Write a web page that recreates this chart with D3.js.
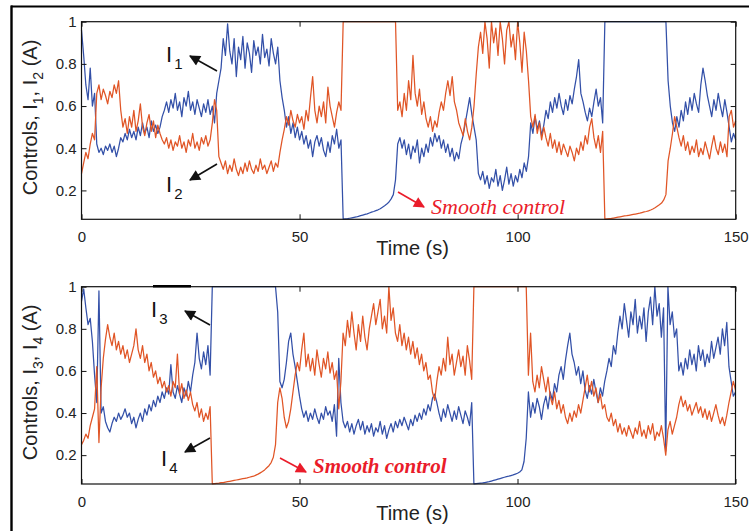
<!DOCTYPE html>
<html>
<head>
<meta charset="utf-8">
<script src="https://cdn.jsdelivr.net/npm/d3@7"></script>
<style>
  html, body { margin: 0; padding: 0; background: #fff; }
  svg { display: block; }
</style>
</head>
<body>
<svg id="chart" width="749" height="531"></svg>
<script>
// ---- data (sampled every 0.5 s, t = 0 ... 150) ----
const timeStart = 0, timeStep = 0.5, timeEnd = 150;
const xTicks = [0, 50, 100, 150];
const yTicks = [0.2, 0.4, 0.6, 0.8, 1];
const yTickLabels = ["0.2", "0.4", "0.6", "0.8", "1"];

const I1 = [
0.96,0.84,0.70,0.63,0.78,0.60,0.66,0.42,0.38,0.40,
0.37,0.41,0.39,0.42,0.38,0.41,0.36,0.40,0.45,0.43,
0.47,0.44,0.49,0.45,0.48,0.44,0.50,0.46,0.52,0.47,
0.50,0.45,0.53,0.48,0.51,0.47,0.50,0.55,0.58,0.62,
0.57,0.63,0.59,0.66,0.58,0.62,0.55,0.64,0.60,0.67,
0.58,0.62,0.56,0.63,0.59,0.55,0.61,0.57,0.63,0.56,
0.60,0.52,0.66,0.72,0.78,0.92,0.84,0.99,0.86,0.80,
0.92,0.74,0.88,0.82,0.93,0.78,0.90,0.85,0.76,0.91,
0.84,0.88,0.80,0.94,0.83,0.87,0.79,0.92,0.85,0.80,
0.88,0.72,0.64,0.58,0.50,0.55,0.47,0.52,0.45,0.50,
0.44,0.48,0.42,0.46,0.40,0.44,0.36,0.43,0.46,0.41,
0.45,0.39,0.36,0.43,0.38,0.46,0.42,0.49,0.40,0.44,
0.064,0.065,0.066,0.068,0.070,0.072,0.074,0.077,0.080,0.083,
0.086,0.089,0.093,0.097,0.100,0.104,0.108,0.113,0.120,0.127,
0.135,0.145,0.16,0.18,0.25,0.42,0.45,0.40,0.44,0.37,
0.42,0.35,0.41,0.38,0.44,0.33,0.40,0.36,0.42,0.38,
0.45,0.41,0.47,0.43,0.46,0.40,0.44,0.38,0.42,0.36,
0.40,0.34,0.38,0.35,0.42,0.46,0.52,0.58,0.64,0.56,
0.50,0.44,0.28,0.25,0.29,0.23,0.27,0.21,0.26,0.24,
0.30,0.22,0.27,0.20,0.25,0.31,0.23,0.28,0.22,0.27,
0.24,0.30,0.26,0.33,0.29,0.36,0.52,0.47,0.55,0.49,
0.53,0.46,0.51,0.58,0.54,0.62,0.57,0.64,0.59,0.66,
0.60,0.56,0.63,0.58,0.65,0.61,0.68,0.74,0.82,0.66,
0.62,0.57,0.53,0.59,0.55,0.62,0.68,0.60,0.64,0.52,
1,1,1,1,1,1,1,1,1,1,
1,1,1,1,1,1,1,1,1,1,
1,1,1,1,1,1,1,1,1,0.72,
0.60,0.52,0.48,0.55,0.50,0.58,0.53,0.62,0.56,0.64,
0.58,0.66,0.61,0.57,0.70,0.78,0.72,0.65,0.60,0.55,
0.63,0.58,0.66,0.60,0.55,0.63,0.57,0.50,0.43,0.47,
0.44];

const I2 = [
0.28,0.33,0.38,0.35,0.42,0.47,0.44,0.66,0.70,0.63,
0.68,0.65,0.61,0.67,0.64,0.70,0.66,0.72,0.58,0.50,
0.54,0.47,0.55,0.50,0.58,0.48,0.53,0.61,0.50,0.46,
0.52,0.56,0.48,0.53,0.45,0.51,0.47,0.44,0.42,0.45,
0.40,0.44,0.39,0.43,0.41,0.46,0.40,0.43,0.38,0.44,
0.41,0.47,0.40,0.43,0.39,0.45,0.42,0.46,0.41,0.44,
0.52,0.63,0.58,0.36,0.33,0.30,0.34,0.28,0.32,0.29,
0.35,0.30,0.27,0.31,0.28,0.33,0.29,0.34,0.30,0.28,
0.32,0.29,0.35,0.30,0.32,0.28,0.31,0.34,0.29,0.33,
0.31,0.38,0.44,0.49,0.55,0.51,0.58,0.53,0.50,0.56,
0.52,0.55,0.49,0.58,0.53,0.64,0.74,0.58,0.52,0.60,
0.55,0.62,0.52,0.69,0.60,0.55,0.50,0.57,0.62,0.58,
1,1,1,1,1,1,1,1,1,1,
1,1,1,1,1,1,1,1,1,1,
1,1,1,1,1,0.58,0.62,0.55,0.66,0.58,
0.72,0.63,0.84,0.66,0.60,0.68,0.56,0.62,0.54,0.50,
0.55,0.48,0.53,0.50,0.57,0.62,0.58,0.66,0.72,0.65,
0.74,0.62,0.58,0.52,0.49,0.46,0.54,0.48,0.44,0.50,
0.60,0.75,0.88,0.95,0.85,1.00,0.92,0.78,1.00,0.90,
0.97,0.84,1.00,0.92,0.80,0.96,1.00,0.88,0.94,0.82,
1.00,0.90,0.76,0.95,0.86,0.72,0.55,0.50,0.56,0.47,
0.52,0.44,0.50,0.45,0.41,0.47,0.40,0.44,0.38,0.43,
0.37,0.42,0.39,0.36,0.41,0.38,0.34,0.40,0.37,0.43,
0.39,0.46,0.42,0.50,0.54,0.45,0.40,0.46,0.38,0.48,
0.064,0.065,0.066,0.067,0.069,0.071,0.073,0.075,0.077,0.079,
0.080,0.082,0.084,0.086,0.088,0.090,0.092,0.095,0.098,0.100,
0.103,0.107,0.112,0.118,0.125,0.132,0.140,0.155,0.18,0.34,
0.40,0.47,0.55,0.50,0.45,0.41,0.46,0.39,0.43,0.37,
0.41,0.38,0.44,0.36,0.40,0.37,0.43,0.39,0.35,0.41,
0.46,0.40,0.37,0.43,0.38,0.42,0.36,0.55,0.58,0.50,
0.53];

const I3 = [
0.93,0.99,0.90,0.82,0.85,0.74,0.58,0.45,0.98,0.40,
0.43,0.36,0.33,0.31,0.35,0.38,0.36,0.40,0.37,0.39,
0.42,0.38,0.40,0.35,0.38,0.33,0.37,0.40,0.36,0.42,
0.39,0.44,0.41,0.46,0.43,0.48,0.45,0.50,0.47,0.52,
0.49,0.63,0.50,0.47,0.53,0.49,0.45,0.52,0.48,0.55,
0.50,0.58,0.64,0.78,0.66,0.61,0.69,0.63,0.72,0.58,
1,1,1,1,1,1,1,1,1,1,
1,1,1,1,1,1,1,1,1,1,
1,1,1,1,1,1,1,1,1,1,
0.88,0.55,0.52,0.56,0.64,0.74,0.78,0.68,0.62,0.55,
0.48,0.42,0.38,0.41,0.36,0.40,0.37,0.42,0.38,0.35,
0.40,0.37,0.43,0.39,0.41,0.36,0.44,0.29,0.66,0.45,
0.36,0.33,0.36,0.31,0.35,0.30,0.34,0.37,0.32,0.36,
0.30,0.34,0.31,0.35,0.29,0.33,0.31,0.36,0.30,0.34,
0.28,0.32,0.35,0.31,0.36,0.33,0.37,0.34,0.38,0.35,
0.32,0.37,0.34,0.39,0.36,0.40,0.37,0.42,0.39,0.44,
0.41,0.47,0.49,0.45,0.40,0.36,0.42,0.38,0.44,0.40,
0.36,0.41,0.37,0.43,0.39,0.35,0.41,0.38,0.34,0.45,
0.064,0.065,0.066,0.067,0.068,0.070,0.072,0.074,0.077,0.080,
0.083,0.086,0.089,0.092,0.095,0.098,0.100,0.103,0.106,0.110,
0.114,0.12,0.13,0.17,0.28,0.50,0.38,0.45,0.40,0.47,
0.43,0.37,0.44,0.48,0.42,0.50,0.46,0.54,0.50,0.58,
0.62,0.56,0.65,0.72,0.78,0.68,0.64,0.58,0.62,0.54,
0.60,0.51,0.47,0.53,0.49,0.56,0.50,0.45,0.52,0.48,
0.55,0.60,0.66,0.62,0.72,0.68,0.78,0.86,0.80,0.92,
0.84,0.76,0.88,0.82,0.94,0.78,0.86,0.80,0.90,0.74,
0.88,0.95,0.82,1.00,0.86,0.92,0.76,0.90,0.22,1.00,
0.82,0.88,0.76,0.80,0.60,0.64,0.58,0.66,0.61,0.70,
0.63,0.68,0.60,0.72,0.65,0.70,0.62,0.68,0.64,0.74,
0.66,0.71,0.76,0.68,0.80,0.72,0.83,0.62,0.55,0.48,
0.50];

const I4 = [
0.25,0.27,0.30,0.28,0.34,0.38,0.42,0.62,0.26,0.52,
0.66,0.75,0.82,0.76,0.72,0.78,0.70,0.74,0.68,0.72,
0.66,0.70,0.64,0.68,0.72,0.80,0.70,0.66,0.72,0.64,
0.68,0.60,0.64,0.57,0.60,0.54,0.57,0.52,0.55,0.50,
0.53,0.48,0.55,0.52,0.68,0.49,0.54,0.47,0.51,0.46,
0.50,0.44,0.41,0.45,0.38,0.42,0.36,0.40,0.37,0.43,
0.064,0.065,0.066,0.067,0.069,0.070,0.072,0.074,0.076,0.078,
0.080,0.082,0.084,0.086,0.088,0.090,0.092,0.095,0.098,0.100,
0.105,0.110,0.116,0.122,0.130,0.140,0.150,0.165,0.19,0.25,
0.45,0.52,0.47,0.38,0.33,0.36,0.42,0.50,0.58,0.64,
0.60,0.70,0.78,0.62,0.68,0.60,0.66,0.58,0.70,0.63,
0.57,0.66,0.61,0.69,0.59,0.64,0.56,0.60,0.42,0.55,
0.78,0.72,0.84,0.76,0.88,0.78,0.70,0.82,0.74,0.86,
0.76,0.70,0.80,0.86,0.92,0.82,0.88,0.94,0.80,0.86,
0.78,1.00,0.84,0.90,0.78,0.74,0.82,0.72,0.78,0.70,
0.76,0.68,0.74,0.66,0.71,0.63,0.68,0.60,0.64,0.56,
0.58,0.50,0.46,0.55,0.62,0.58,0.66,0.60,0.76,0.63,
0.68,0.58,0.64,0.70,0.62,0.67,0.58,0.72,0.65,0.56,
1,1,1,1,1,1,1,1,1,1,
1,1,1,1,1,1,1,1,1,1,
1,1,1,1,1,0.58,0.78,0.55,0.50,0.58,
0.52,0.62,0.56,0.50,0.57,0.48,0.44,0.50,0.42,0.46,
0.40,0.44,0.38,0.35,0.40,0.36,0.41,0.38,0.44,0.40,
0.46,0.52,0.58,0.50,0.55,0.48,0.52,0.45,0.49,0.42,
0.44,0.38,0.36,0.40,0.34,0.37,0.31,0.35,0.30,0.33,
0.29,0.34,0.31,0.28,0.33,0.30,0.36,0.29,0.32,0.28,
0.34,0.30,0.35,0.27,0.31,0.29,0.34,0.28,0.20,0.32,
0.36,0.30,0.34,0.38,0.44,0.48,0.43,0.46,0.41,0.44,
0.39,0.42,0.45,0.40,0.43,0.38,0.42,0.37,0.41,0.36,
0.40,0.44,0.39,0.35,0.38,0.34,0.39,0.45,0.50,0.55,
0.51];

const T = d3.range(timeStart, timeEnd + timeStep / 2, timeStep);

// ---- styles ----
const BLUE = "#3350a8";
const ORANGE = "#e05526";
const RED = "#ea1c2a";
const SANS = "'Liberation Sans', Arial, sans-serif";
const SERIF = "'Liberation Serif', 'Times New Roman', serif";

const svg = d3.select("#chart");

// outer frame (partial, as in the reference)
svg.append("line").attr("x1", 11).attr("x2", 749).attr("y1", 6.5).attr("y2", 6.5)
  .attr("stroke", "#000").attr("stroke-width", 2.2);
svg.append("line").attr("x1", 11.5).attr("x2", 11.5).attr("y1", 5.5).attr("y2", 531)
  .attr("stroke", "#000").attr("stroke-width", 2.4);

// arrow markers
const defs = svg.append("defs");
function marker(id, color) {
  defs.append("marker").attr("id", id)
    .attr("viewBox", "0 0 10 10").attr("refX", 9).attr("refY", 5)
    .attr("markerUnits", "userSpaceOnUse")
    .attr("markerWidth", 13).attr("markerHeight", 11)
    .attr("orient", "auto")
    .append("path").attr("d", "M0,0 L10,5 L0,10 Z").attr("fill", color);
}
marker("ah-black", "#111");
marker("ah-red", RED);

function panel(cfg) {
  const x = d3.scaleLinear().domain([0, 150]).range([cfg.left, cfg.right]);
  const y = d3.scaleLinear().domain([0.063, 1]).range([cfg.bottom, cfg.top]);
  const g = svg.append("g");

  // series
  const line = d3.line().x((d, i) => x(T[i])).y(d => y(d));
  g.append("path").datum(cfg.blue).attr("d", line)
    .attr("fill", "none").attr("stroke", BLUE).attr("stroke-width", 1.25).attr("stroke-linejoin", "round");
  g.append("path").datum(cfg.orange).attr("d", line)
    .attr("fill", "none").attr("stroke", ORANGE).attr("stroke-width", 1.25).attr("stroke-linejoin", "round");

  // box
  g.append("rect").attr("x", cfg.left).attr("y", cfg.top)
    .attr("width", cfg.right - cfg.left).attr("height", cfg.bottom - cfg.top)
    .attr("fill", "none").attr("stroke", "#111").attr("stroke-width", 1.2);

  // axes with inward ticks
  const tl = 5;
  const axB = d3.axisBottom(x).tickValues(xTicks).tickSize(tl).tickFormat(d3.format("d"));
  const gB = g.append("g").attr("transform", `translate(0,${cfg.bottom})`).call(axB);
  gB.select(".domain").remove();
  gB.selectAll(".tick line").attr("y2", -tl).attr("stroke", "#111");
  gB.selectAll(".tick text").attr("y", 12).attr("dy", "0.71em")
    .style("font-size", "15px").style("font-family", SANS).attr("fill", "#222");

  const axT = d3.axisTop(x).tickValues(xTicks).tickSize(tl).tickFormat("");
  const gT = g.append("g").attr("transform", `translate(0,${cfg.top})`).call(axT);
  gT.select(".domain").remove();
  gT.selectAll(".tick line").attr("y2", tl).attr("stroke", "#111");

  const axL = d3.axisLeft(y).tickValues(yTicks).tickSize(tl)
    .tickFormat((d, i) => yTickLabels[i]);
  const gL = g.append("g").attr("transform", `translate(${cfg.left},0)`).call(axL);
  gL.select(".domain").remove();
  gL.selectAll(".tick line").attr("x2", tl).attr("stroke", "#111");
  gL.selectAll(".tick text").attr("x", -5)
    .style("font-size", "15px").style("font-family", SANS).attr("fill", "#222");

  const axR = d3.axisRight(y).tickValues(yTicks).tickSize(tl).tickFormat("");
  const gR = g.append("g").attr("transform", `translate(${cfg.right},0)`).call(axR);
  gR.select(".domain").remove();
  gR.selectAll(".tick line").attr("x2", -tl).attr("stroke", "#111");

  // x label
  g.append("text").attr("x", (cfg.left + cfg.right) / 2 + 4).attr("y", cfg.xLabelY)
    .attr("text-anchor", "middle").style("font-size", "20px").style("font-family", SANS)
    .attr("fill", "#222").text("Time (s)");

  // y label
  const yl = g.append("text")
    .attr("transform", `translate(${cfg.yLabelX},${(cfg.top + cfg.bottom) / 2 - 3}) rotate(-90)`)
    .attr("text-anchor", "middle").style("font-size", "20px").style("font-family", SANS)
    .attr("fill", "#222");
  yl.append("tspan").text("Controls, I");
  yl.append("tspan").style("font-size", "14px").attr("dy", 6).text(cfg.sub[0]);
  yl.append("tspan").attr("dy", -6).text(", I");
  yl.append("tspan").style("font-size", "14px").attr("dy", 6).text(cfg.sub[1]);
  yl.append("tspan").attr("dy", -6).text(" (A)");

  // series labels with arrows
  cfg.labels.forEach(L => {
    const t = g.append("text").attr("x", L.x).attr("y", L.y)
      .style("font-size", "22px").style("font-family", SANS).attr("fill", "#111");
    t.append("tspan").text("I");
    t.append("tspan").style("font-size", "15px").attr("dy", 7).attr("dx", 2).text(L.sub);
    g.append("line").attr("x1", L.a[0]).attr("y1", L.a[1]).attr("x2", L.a[2]).attr("y2", L.a[3])
      .attr("stroke", "#111").attr("stroke-width", 1.6).attr("marker-end", "url(#ah-black)");
  });

  // smooth control annotation
  const s = cfg.smooth;
  g.append("line").attr("x1", s.a[0]).attr("y1", s.a[1]).attr("x2", s.a[2]).attr("y2", s.a[3])
    .attr("stroke", RED).attr("stroke-width", 1.6).attr("marker-end", "url(#ah-red)");
  g.append("text").attr("x", s.x).attr("y", s.y)
    .style("font-family", SERIF).style("font-style", "italic")
    .style("font-weight", s.bold ? "bold" : "normal")
    .style("font-size", s.size + "px").attr("fill", RED).text("Smooth control");
}

panel({
  left: 81.5, right: 735.7, top: 21.7, bottom: 219.3,
  blue: I1, orange: I2, sub: ["1", "2"],
  xLabelY: 255, yLabelX: 37,
  labels: [
    { x: 166, y: 62, sub: "1", a: [217, 71, 190, 56] },
    { x: 166, y: 192, sub: "2", a: [217, 164, 190, 180] }
  ],
  smooth: { a: [398, 192, 424, 207], x: 431, y: 214, size: 22, bold: false }
});

panel({
  left: 81.5, right: 735.5, top: 286.7, bottom: 484,
  blue: I3, orange: I4, sub: ["3", "4"],
  xLabelY: 520, yLabelX: 37,
  labels: [
    { x: 151, y: 317, sub: "3", a: [210, 325, 185, 311] },
    { x: 161, y: 466, sub: "4", a: [210, 438, 185, 452] }
  ],
  smooth: { a: [280, 458, 306, 472], x: 313, y: 473, size: 21, bold: true }
});

// small thick segment on the top edge of the lower panel (as in the reference)
svg.append("line").attr("x1", 153).attr("x2", 191).attr("y1", 286.2).attr("y2", 286.2)
  .attr("stroke", "#000").attr("stroke-width", 2.5);
</script>
</body>
</html>
